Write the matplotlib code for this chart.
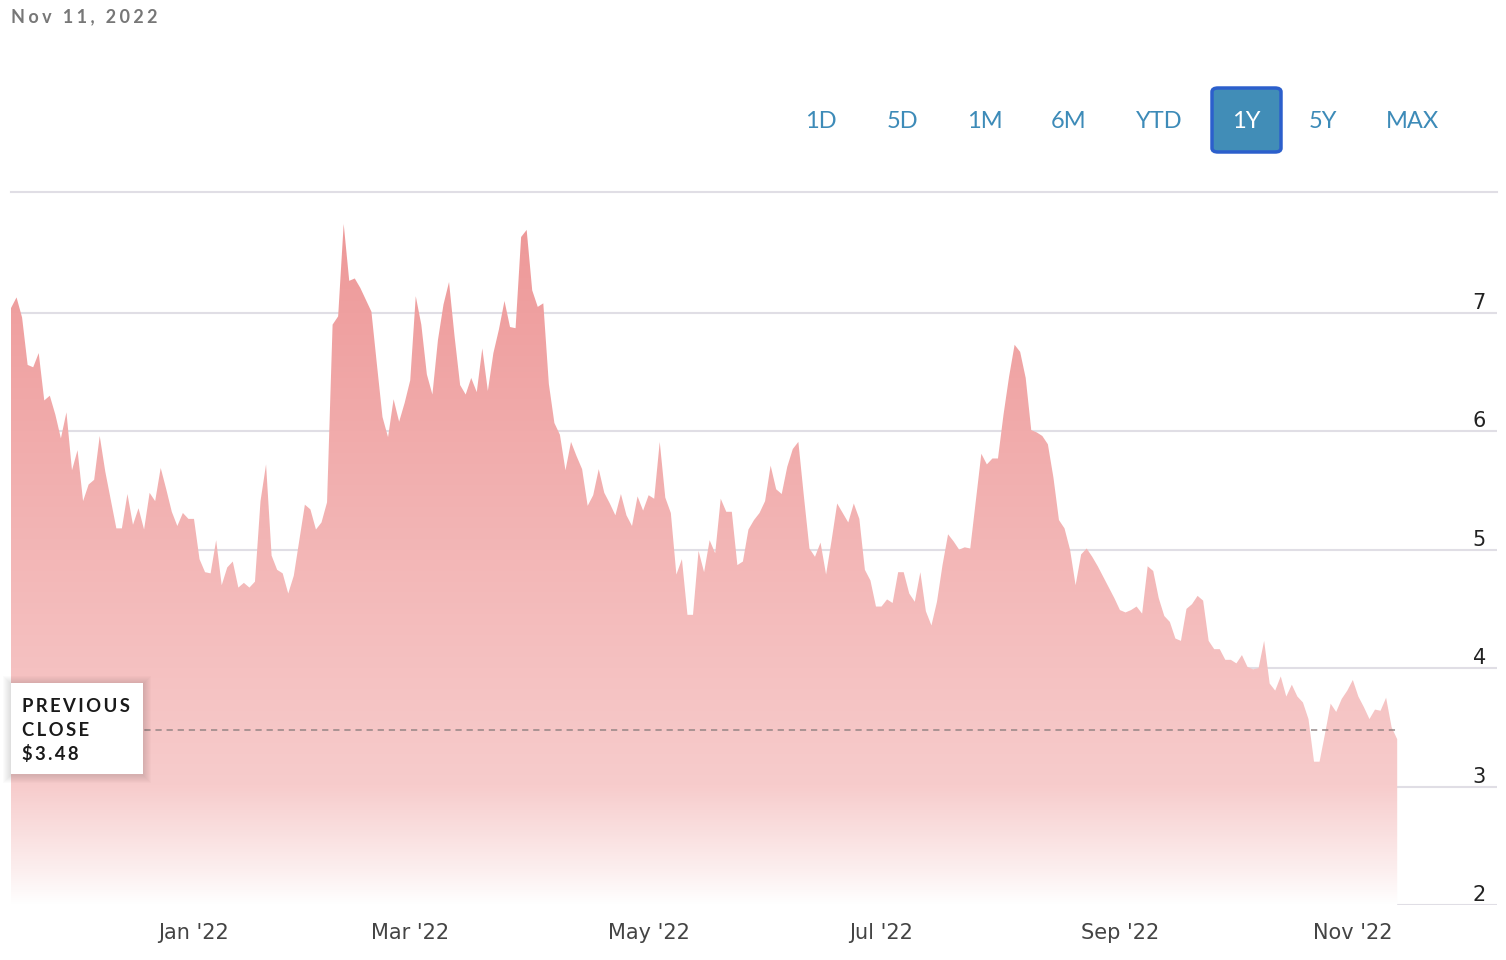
import numpy as np
import pandas as pd
import matplotlib
matplotlib.use("Agg")
import matplotlib.pyplot as plt
from matplotlib.patches import Rectangle, FancyBboxPatch

# daily closes, one per trading day
prices = [
    7.04, 7.13, 6.96, 6.56, 6.54, 6.66, 6.26, 6.30, 6.14, 5.94,
    6.16, 5.67, 5.84, 5.41, 5.55, 5.59, 5.96, 5.66, 5.42, 5.18,
    5.18, 5.47, 5.21, 5.35, 5.17, 5.48, 5.41, 5.69, 5.51, 5.32,
    5.20, 5.31, 5.26, 5.26, 4.92, 4.81, 4.80, 5.08, 4.70, 4.85,
    4.90, 4.68, 4.72, 4.68, 4.73,
    5.41, 5.72, 4.95, 4.83, 4.80, 4.63, 4.78, 5.08, 5.38, 5.34,
    5.17, 5.23, 5.40, 6.90, 6.97, 7.75, 7.27, 7.29, 7.21, 7.11,
    7.01, 6.56, 6.12, 5.95, 6.27, 6.08, 6.24, 6.43, 7.14, 6.90,
    6.48, 6.31, 6.77, 7.07, 7.26, 6.80, 6.39, 6.31, 6.45, 6.33,
    6.70, 6.34, 6.66, 6.86, 7.10, 6.88,
    6.87, 7.64, 7.70, 7.19, 7.05, 7.08, 6.40, 6.07,
    5.97, 5.67, 5.91, 5.79, 5.68, 5.37, 5.46, 5.68, 5.48, 5.39,
    5.29, 5.47, 5.29, 5.20, 5.45, 5.33, 5.46, 5.43, 5.91, 5.44,
    5.31, 4.79, 4.92, 4.45, 4.45, 4.99, 4.81, 5.08, 4.97, 5.43,
    5.32, 5.32, 4.87, 4.90, 5.17, 5.25, 5.31,
    5.41, 5.71, 5.51, 5.47, 5.70, 5.85, 5.91, 5.45, 5.01, 4.94,
    5.06, 4.79, 5.08, 5.39, 5.31, 5.23, 5.39, 5.26, 4.83, 4.74,
    4.52, 4.52, 4.58, 4.55, 4.81, 4.81, 4.63, 4.56, 4.81, 4.48,
    4.36, 4.56, 4.87, 5.13, 5.07, 5.00, 5.02, 5.01, 5.41, 5.81,
    5.72, 5.77, 5.77, 6.14, 6.46,
    6.73, 6.67, 6.45,
    6.01, 5.99, 5.96, 5.89, 5.61, 5.25, 5.18, 5.00, 4.70, 4.96,
    5.01, 4.94, 4.86, 4.77, 4.68, 4.59, 4.49, 4.47, 4.49, 4.52,
    4.46, 4.86, 4.82, 4.59, 4.44, 4.39, 4.25, 4.23, 4.50, 4.54,
    4.61, 4.57, 4.23, 4.16, 4.16, 4.07, 4.07, 4.04, 4.11, 4.01,
    3.99, 4.00,
    4.23, 3.87, 3.81, 3.93, 3.76, 3.86, 3.76, 3.71, 3.57, 3.21,
    3.21, 3.45, 3.70, 3.63, 3.74, 3.81, 3.90, 3.76, 3.67, 3.57,
    3.65, 3.64, 3.75, 3.50, 3.40,
]

last_date = "2022-11-11"
market_holidays = ["2021-11-25", "2021-12-24", "2022-01-17", "2022-02-21",
                   "2022-04-15", "2022-05-30", "2022-06-20", "2022-07-04",
                   "2022-09-05"]
tick_months = ["2022-01", "2022-03", "2022-05", "2022-07", "2022-09", "2022-11"]
y_ticks = [2, 3, 4, 5, 6, 7]
y_top = 8.02
previous_close = 3.48
ranges = ["1D", "5D", "1M", "6M", "YTD", "1Y", "5Y", "MAX"]
selected_range = "1Y"

bday = pd.offsets.CustomBusinessDay(holidays=market_holidays)
dates = pd.date_range(end=last_date, periods=len(prices), freq=bday)
x = np.arange(len(prices))
y = np.array(prices)

plt.rcParams["font.family"] = ["DejaVu Sans"]
plt.rcParams["lines.scale_dashes"] = False

W, H = 1506, 960
fig = plt.figure(figsize=(W / 100, H / 100), dpi=100)
ax = fig.add_axes([11 / W, (H - 905) / H, (1497 - 11) / W, (905 - 192) / H])
ax.set_xlim(0, len(prices) - 1 + 18)
ax.set_ylim(2, y_top)
for s in ax.spines.values():
    s.set_visible(False)

# horizontal grid
grid_col = "#e0dee5"
ax.set_yticks(y_ticks)
ax.yaxis.grid(True, color=grid_col, lw=1.5)
ax.axhline(y_top, color=grid_col, lw=1.5, clip_on=False)
ax.tick_params(axis="y", length=0, labelleft=False)
ax.set_axisbelow(True)
for v in y_ticks:
    ax.annotate(str(v), (1, v), xycoords=("axes fraction", "data"),
                xytext=(-11, 4), textcoords="offset pixels",
                ha="right", va="baseline", fontsize=15, color="#222222")

# x ticks at first trading day of every other month
tick_pos = [int(np.argmax(dates >= pd.Timestamp(m + "-01"))) for m in tick_months]
ax.set_xticks(tick_pos)
ax.set_xticklabels([dates[i].strftime("%b '%y") for i in tick_pos],
                   fontsize=15, color="#444444")
ax.tick_params(axis="x", length=0, pad=13)

# gradient filled area
grad_v = np.array([2.0, 2.3, 3.0, 4.0, 5.0, 6.0, 7.0, 8.0])
grad_rgb = np.array([
    [255, 255, 255], [252, 238, 238], [247, 204, 204], [245, 193, 193],
    [243, 182, 182], [241, 171, 171], [239, 160, 160], [237, 150, 150],
]) / 255.0
rows = np.linspace(2, 8, 400)
img = np.stack([np.interp(rows, grad_v, grad_rgb[:, c]) for c in range(3)], axis=1)
img = np.repeat(img[:, None, :], 2, axis=1)
poly = ax.fill_between(x, y, 2, color="none", lw=0)
im = ax.imshow(img, extent=[0, len(prices) - 1, 2, 8], origin="lower",
               aspect="auto", zorder=2, interpolation="bilinear")
im.set_clip_path(poly.get_paths()[0], transform=ax.transData)

# previous close line
ax.plot([0, len(prices) - 1], [previous_close, previous_close], color="#8f8282",
        lw=1.3, dashes=(4.5, 3.5), alpha=0.8, zorder=3)

# previous close box with soft shadow
bx0, bx1, by0, by1 = 11, 143, 683, 774
for i in range(1, 9):
    fig.patches.append(Rectangle(((bx0 - i) / W, (H - by1 - i - 1) / H),
                                 (bx1 - bx0 + 2 * i) / W, (by1 - by0 + 2 * i) / H,
                                 transform=fig.transFigure, facecolor="black",
                                 alpha=0.014, lw=0, zorder=5))
fig.patches.append(Rectangle((bx0 / W, (H - by1) / H), (bx1 - bx0) / W,
                             (by1 - by0) / H, transform=fig.transFigure,
                             facecolor="white", lw=0, zorder=6))
sp = "\u2009"
for txt, yb in [("PREVIOUS", 712), ("CLOSE", 736), (f"${previous_close:.2f}", 760)]:
    fig.text(22 / W, (H - yb) / H, sp.join(txt), fontsize=13.3, fontweight="bold",
             color="#1a1a1a", ha="left", va="baseline", zorder=7,
             family=["Lato", "DejaVu Sans"])

# date header
fig.text(11 / W, (H - 22) / H, "\u2009\u200a".join(dates[-1].strftime("%b %d, %Y")),
         fontsize=13, fontweight="bold", color="#777777", ha="left", va="baseline",
         family=["Lato", "DejaVu Sans"])

# range selector buttons
btn_x = [821, 902, 985, 1069, 1159, 1246, 1323, 1412]
for lab, bx in zip(ranges, btn_x):
    col = "#3d8bb8"
    if lab == selected_range:
        fig.patches.append(FancyBboxPatch((1212 / W, (H - 152) / H), 69 / W, 64 / H,
                                          boxstyle="round,pad=0,rounding_size=0.004",
                                          transform=fig.transFigure,
                                          facecolor="#418db7", edgecolor="#2c5fcc",
                                          lw=2.5))
        col = "white"
    fig.text(bx / W, (H - 121) / H, lab, fontsize=17, color=col,
             ha="center", va="center", family="Lato")

fig.savefig("out.png", dpi=100, facecolor="white")
